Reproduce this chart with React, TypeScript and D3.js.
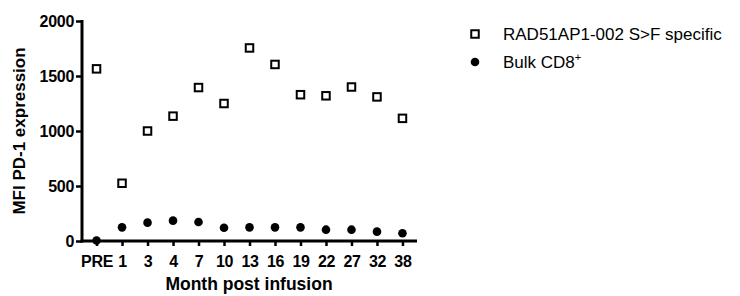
import * as d3 from 'd3';
import { useEffect, useRef } from 'react';

// Months post infusion
const months = ['PRE', '1', '3', '4', '7', '10', '13', '16', '19', '22', '27', '32', '38'];
// MFI PD-1, RAD51AP1-002 S>F specific (open squares)
const specificValues = [1565, 525, 1000, 1135, 1395, 1250, 1755, 1605, 1330, 1320, 1400, 1310, 1115];
// MFI PD-1, bulk CD8+ (filled dots)
const bulkValues = [5, 124, 167, 185, 173, 121, 124, 124, 124, 103, 103, 85, 70];
const yTicks = [0, 500, 1000, 1500, 2000];

export default function App() {
  const svgRef = useRef<SVGSVGElement>(null);

  const width = 740;
  const height = 296;
  const margin = { top: 21, left: 82, right: 323, bottom: 55 };
  const font = '"Liberation Sans", Arial, Helvetica, sans-serif';

  useEffect(() => {
    const svg = d3.select(svgRef.current);
    svg.selectAll('*').remove();

    const x = d3
      .scalePoint()
      .domain(months)
      .range([margin.left, width - margin.right])
      .padding(0.57);
    const y = d3
      .scaleLinear()
      .domain([0, 2000])
      .range([height - margin.bottom, margin.top]);

    const base = y(0);

    // y axis
    const yAxis = svg.append('g').attr('transform', `translate(${margin.left},0)`)
      .call(d3.axisLeft(y).tickValues(yTicks).tickFormat(d3.format('d')).tickSize(6).tickSizeOuter(0).tickPadding(2));
    yAxis.select('.domain').attr('stroke', '#000').attr('stroke-width', 3)
      .attr('d', `M0,${y(2000) - 1}V${base + 1.5}`);
    yAxis.selectAll('.tick line').attr('stroke-width', 2.5);
    yAxis.selectAll('.tick text')
      .attr('font-family', font).attr('font-size', 16).attr('font-weight', 'bold').attr('fill', '#000')
      .attr('letter-spacing', -0.3);

    // x axis
    const xAxis = svg.append('g').attr('transform', `translate(0,${base})`)
      .call(d3.axisBottom(x).tickSize(5).tickSizeOuter(0).tickPadding(6));
    xAxis.select('.domain').attr('stroke', '#000').attr('stroke-width', 3)
      .attr('d', `M${margin.left - 1.5},0H${width - margin.right}`);
    xAxis.selectAll('.tick line').attr('stroke-width', 2.5);
    xAxis.selectAll('.tick text')
      .attr('font-family', font).attr('font-size', 16).attr('font-weight', 'bold').attr('fill', '#000')
      .attr('letter-spacing', -0.3)
      .attr('dy', null).attr('y', 26);

    // bulk CD8 dots
    svg.append('g').selectAll('circle').data(bulkValues).enter().append('circle')
      .attr('cx', (d, i) => x(months[i]) as number)
      .attr('cy', (d) => y(d))
      .attr('r', 4.3)
      .attr('fill', '#000');

    // specific squares
    const s = 7.5;
    svg.append('g').selectAll('rect').data(specificValues).enter().append('rect')
      .attr('x', (d, i) => (x(months[i]) as number) - s / 2)
      .attr('y', (d) => y(d) - s / 2)
      .attr('width', s)
      .attr('height', s)
      .attr('fill', '#fff')
      .attr('stroke', '#000')
      .attr('stroke-width', 2);

    // axis titles
    svg.append('text')
      .text('MFI PD-1 expression')
      .attr('transform', `translate(25,${(margin.top + base) / 2}) rotate(-90)`)
      .attr('text-anchor', 'middle')
      .attr('font-family', font).attr('font-size', 17).attr('font-weight', 'bold');
    svg.append('text')
      .text('Month post infusion')
      .attr('x', 249)
      .attr('y', 290)
      .attr('text-anchor', 'middle')
      .attr('font-family', font).attr('font-size', 17.5).attr('font-weight', 'bold');

    // legend
    const lg = svg.append('g').attr('font-family', font).attr('font-size', 17);
    lg.append('rect').attr('x', 475 - s / 2).attr('y', 34 - s / 2).attr('width', s).attr('height', s)
      .attr('fill', '#fff').attr('stroke', '#000').attr('stroke-width', 2);
    lg.append('text').attr('x', 503).attr('y', 40).text('RAD51AP1-002 S>F specific');
    lg.append('circle').attr('cx', 475).attr('cy', 62).attr('r', 4.3).attr('fill', '#000');
    const t = lg.append('text').attr('x', 503).attr('y', 68);
    t.append('tspan').text('Bulk CD8');
    t.append('tspan').text('+').attr('font-size', 11).attr('dy', -7);
  }, []);

  return (
    <svg
      ref={svgRef}
      width={width}
      height={height}
      style={{ position: 'absolute', left: 0, top: 0, background: '#fff' }}
    />
  );
}
